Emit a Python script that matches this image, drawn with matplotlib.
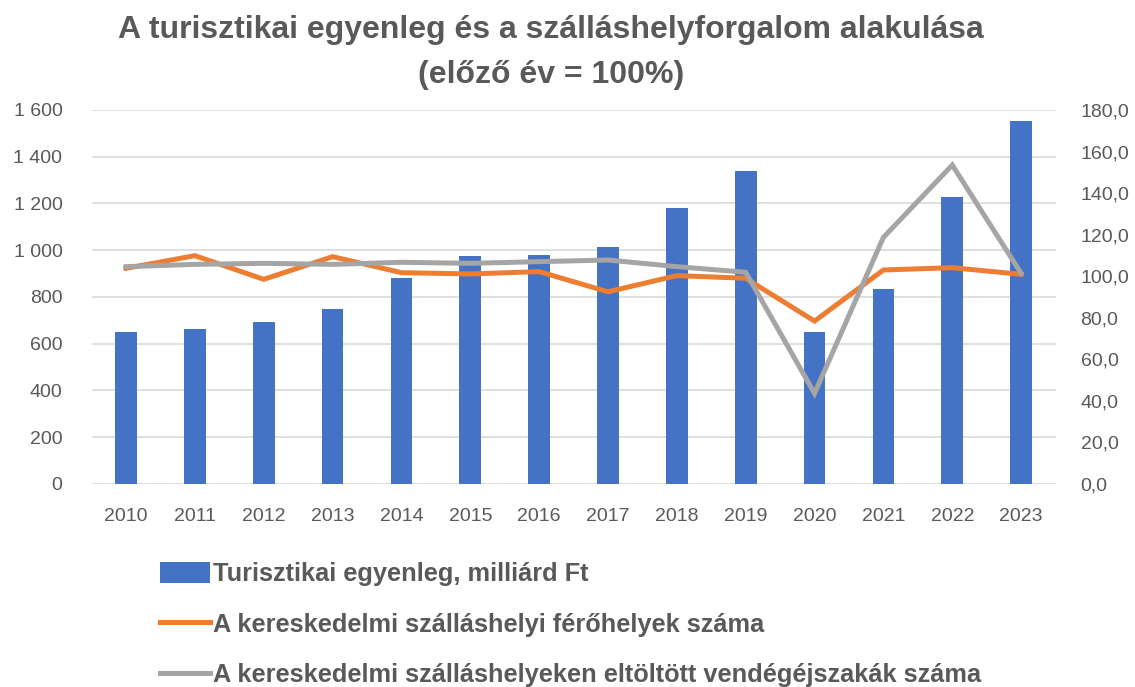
import numpy as np
import matplotlib
matplotlib.use("Agg")
import matplotlib.pyplot as plt
from matplotlib.ticker import FuncFormatter

plt.rcParams['font.family'] = ['Liberation Sans', 'DejaVu Sans']

years = ["2010", "2011", "2012", "2013", "2014", "2015", "2016",
         "2017", "2018", "2019", "2020", "2021", "2022", "2023"]
egyenleg = [650, 665, 693, 750, 880, 975, 981, 1015, 1179, 1340, 650, 834, 1228, 1552]
ferohely = [103.8, 109.9, 98.5, 109.4, 101.7, 101.1, 102.2, 92.5, 100.3, 99.0, 78.4, 103.0, 104.1, 100.9]
vendegej = [104.6, 105.7, 106.2, 105.7, 106.7, 106.2, 107.0, 107.8, 104.6, 101.9, 43.6, 118.7, 153.5, 101.4]

labels = ["Turisztikai egyenleg, milliárd Ft",
          "A kereskedelmi szálláshelyi férőhelyek száma",
          "A kereskedelmi szálláshelyeken eltöltött vendégéjszakák száma"]

blue, orange, gray = "#4472C4", "#ED7D31", "#A5A5A5"
txt = "#595959"

fig = plt.figure(figsize=(11.35, 6.87), dpi=100)
ax = fig.add_axes([0.0807, 0.2955, 0.8493, 0.5444])
x = np.arange(len(years))

bars = ax.bar(x, egyenleg, width=0.315, color=blue, zorder=2, label=labels[0])
ax.set_ylim(0, 1600)
ax.set_yticks(np.arange(0, 1601, 200))
ax.yaxis.set_major_formatter(FuncFormatter(lambda v, p: f"{int(v):,}".replace(",", " ")))
ax.set_xlim(-0.5, len(years) - 0.5)
ax.set_xticks(x)
ax.set_xticklabels(years)
ax.grid(axis="y", color="#d9d9d9", linewidth=1.2, zorder=0)
ax.set_axisbelow(True)
for s in ax.spines.values():
    s.set_visible(False)
ax.tick_params(axis="y", length=0, labelsize=14, colors=txt, pad=21)
ax.tick_params(axis="x", length=0, labelsize=14, colors=txt, pad=17)

ax2 = ax.twinx()
l1, = ax2.plot(x, ferohely, color=orange, lw=3.6, solid_joinstyle="miter", label=labels[1])
l2, = ax2.plot(x, vendegej, color=gray, lw=3.6, solid_joinstyle="miter", label=labels[2])
ax2.set_ylim(0, 180)
ax2.set_yticks(np.arange(0, 181, 20))
ax2.yaxis.set_major_formatter(FuncFormatter(lambda v, p: f"{v:.1f}".replace(".", ",")))
for s in ax2.spines.values():
    s.set_visible(False)
ax2.tick_params(length=0, labelsize=14, colors=txt, pad=18)

fig.text(0.4855, 0.956, "A turisztikai egyenleg és a szálláshelyforgalom alakulása",
         ha="center", va="center", fontsize=23, fontweight="bold", color=txt)
fig.text(0.4855, 0.891, "(előző év = 100%)",
         ha="center", va="center", fontsize=23, fontweight="bold", color=txt)

fig.legend([bars, l1, l2], labels, loc="upper left", bbox_to_anchor=(0.141, 0.182),
           frameon=False, ncol=1, prop={"size": 18.3, "weight": "bold"},
           labelcolor=txt, handlelength=1.96, handleheight=0.9, handletextpad=0.12,
           labelspacing=1.03, borderaxespad=0, borderpad=0)

fig.savefig("out.png", dpi=100)
